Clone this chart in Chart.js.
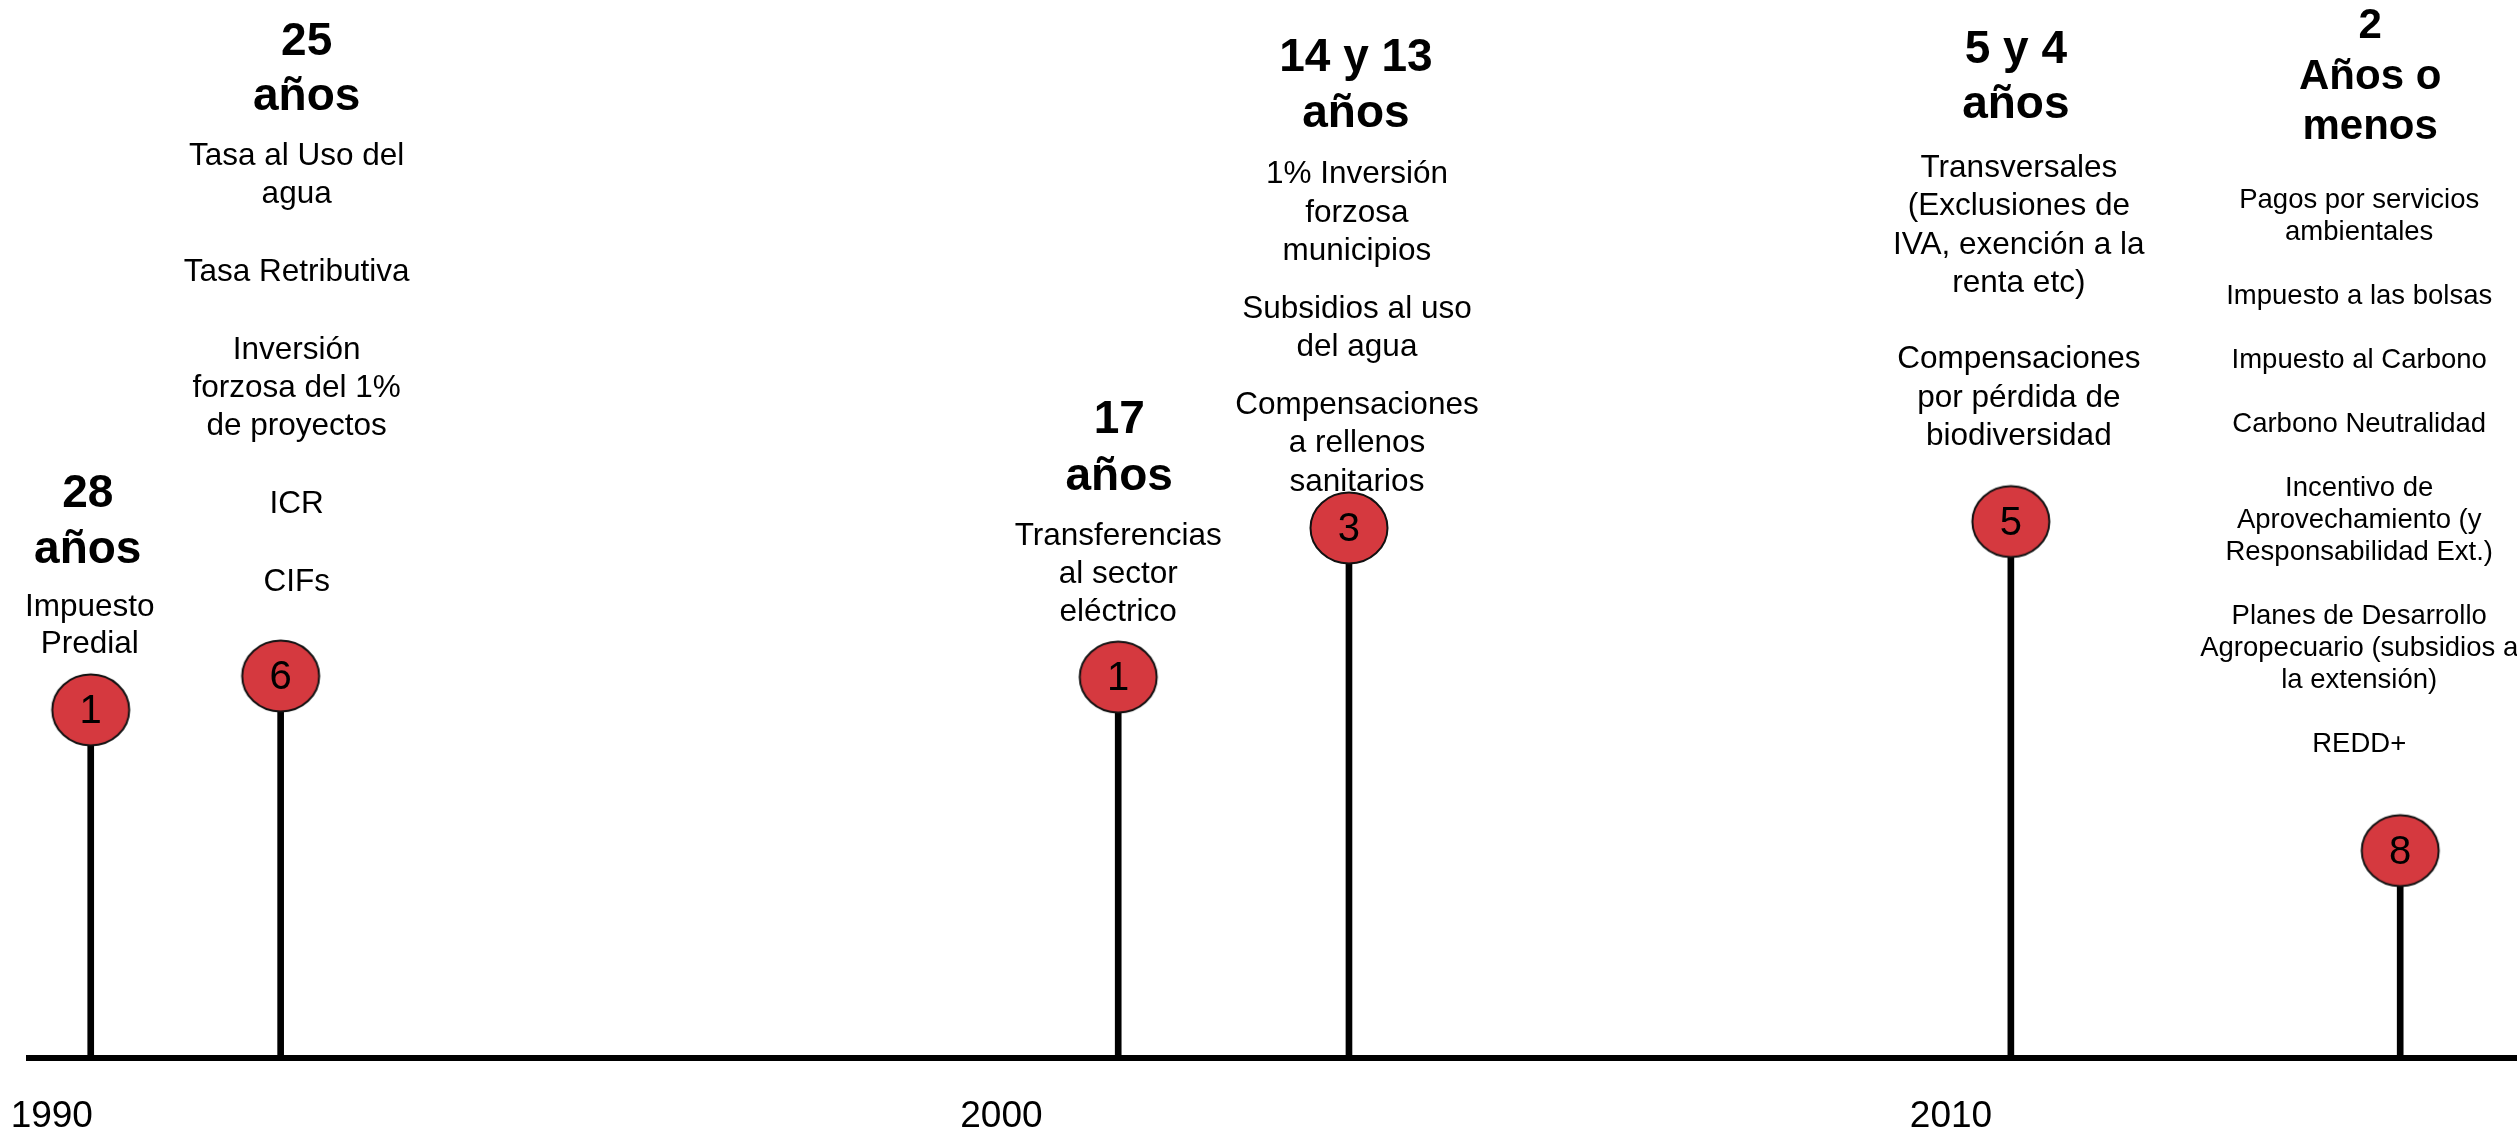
<!DOCTYPE html>
<html lang="es">
<head>
<meta charset="utf-8">
<title>Instrumentos económicos - línea de tiempo</title>
<script src="https://cdn.jsdelivr.net/npm/chart.js@4.4.1/dist/chart.umd.min.js"></script>
<style>
  html, body { margin: 0; padding: 0; background: #fff; overflow: hidden; }
  #wrap { width: 2517px; height: 1135px; }
  #timeline { display: block; }
</style>
</head>
<body>
<div id="wrap"><canvas id="timeline"></canvas></div>
<script>
// where each group sits on the time axis
const eventYears = [1990.41, 1992.41, 2001.23, 2003.66, 2010.63, 2014.73];
// stem height, 0 = axis line, 100 = top of the plot
const stemHeights = [32.9, 36.1, 36.0, 50.1, 50.7, 19.6];
// number written inside each marker
const instrumentCounts = [1, 6, 1, 3, 5, 8];
const yearTicks = [1990, 2000, 2010];

const groupTitles = [
  ["28", "años"],
  ["25", "años"],
  ["17", "años"],
  ["14 y 13", "años"],
  ["5 y 4", "años"],
  ["2", "Años o", "menos"],
];

const groupItems = [
  [["Impuesto", "Predial"]],
  [["Tasa al Uso del", "agua"], ["Tasa Retributiva"], ["Inversión", "forzosa del 1%", "de proyectos"], ["ICR"], ["CIFs"]],
  [["Transferencias", "al sector", "eléctrico"]],
  [["1% Inversión", "forzosa", "municipios"], ["Subsidios al uso", "del agua"], ["Compensaciones", "a rellenos", "sanitarios"]],
  [["Transversales", "(Exclusiones de", "IVA, exención a la", "renta etc)"], ["Compensaciones", "por pérdida de", "biodiversidad"]],
  [["Pagos por servicios", "ambientales"], ["Impuesto a las bolsas"], ["Impuesto al Carbono"], ["Carbono Neutralidad"],
   ["Incentivo de", "Aprovechamiento (y", "Responsabilidad Ext.)"],
   ["Planes de Desarrollo", "Agropecuario (subsidios a", "la extensión)"], ["REDD+"]],
];

const FONT = '"Liberation Sans", Arial, sans-serif';

// text block layout: first title baseline (px), x shift from the stem, sizes and spacing
const blockLayout = [
  { top: 507, titleDx: -3, itemDx: -1, titleSize: 46, titleLH: 56, gap: 53, itemSize: 31.5, itemLH: 37, para: 0 },
  { top: 55, titleDx: 26, itemDx: 16, titleSize: 46, titleLH: 55, gap: 55, itemSize: 31.5, itemLH: 38, para: 40 },
  { top: 433, titleDx: 1, itemDx: 0, titleSize: 46, titleLH: 57, gap: 55, itemSize: 31.5, itemLH: 38, para: 0 },
  { top: 71, titleDx: 7, itemDx: 8, titleSize: 46, titleLH: 56, gap: 56, itemSize: 31.5, itemLH: 38.5, para: 19 },
  { top: 63, titleDx: 5, itemDx: 8, titleSize: 46, titleLH: 55, gap: 59, itemSize: 31.5, itemLH: 38.3, para: 38 },
  { top: 38, titleDx: -30, itemDx: -41, titleSize: 42, titleLH: 50.5, gap: 69, itemSize: 27.5, itemLH: 32, para: 32 },
];

function makeMarker() {
  const c = document.createElement("canvas");
  c.width = 84;
  c.height = 78;
  const g = c.getContext("2d");
  g.beginPath();
  g.ellipse(42, 39, 38.5, 35.5, 0, 0, Math.PI * 2);
  g.fillStyle = "#d5393f";
  g.fill();
  g.lineWidth = 2;
  g.strokeStyle = "#111";
  g.stroke();
  return c;
}

const points = eventYears.map((yr, i) => ({ x: yr, y: stemHeights[i] }));

const annotations = {
  id: "annotations",
  afterDatasetsDraw(chart) {
    const ctx = chart.ctx;
    const xs = chart.scales.x;
    const ys = chart.scales.y;
    ctx.save();
    ctx.fillStyle = "#000";
    ctx.textAlign = "center";

    eventYears.forEach((yr, i) => {
      const px = xs.getPixelForValue(yr);
      const py = ys.getPixelForValue(stemHeights[i]);

      // number inside the marker
      ctx.font = `40px ${FONT}`;
      ctx.textBaseline = "middle";
      ctx.fillText(String(instrumentCounts[i]), px, py + 2);

      // title + instruments above it
      const s = blockLayout[i];
      ctx.textBaseline = "alphabetic";
      let base = s.top;
      ctx.font = `bold ${s.titleSize}px ${FONT}`;
      groupTitles[i].forEach((line, k) => {
        if (k > 0) base += s.titleLH;
        ctx.fillText(line, px + s.titleDx, base);
      });
      base += s.gap;
      ctx.font = `${s.itemSize}px ${FONT}`;
      groupItems[i].forEach((para, p) => {
        if (p > 0) base += s.itemLH + s.para;
        para.forEach((line, k) => {
          if (k > 0) base += s.itemLH;
          ctx.fillText(line, px + s.itemDx, base);
        });
      });
    });
    ctx.restore();
  },
};

new Chart(document.getElementById("timeline"), {
  type: "bar",
  data: {
    datasets: [
      {
        type: "line",
        data: points,
        showLine: false,
        pointStyle: makeMarker(),
        pointRadius: 39,
        pointHoverRadius: 39,
        order: 0,
      },
      {
        type: "bar",
        data: points,
        backgroundColor: "#000",
        barThickness: 6,
        order: 1,
      },
    ],
  },
  options: {
    responsive: true,
    maintainAspectRatio: false,
    animation: false,
    layout: { autoPadding: false, padding: { left: 29, right: 0, top: 0, bottom: 0 } },
    plugins: {
      legend: { display: false },
      tooltip: { enabled: false },
    },
    scales: {
      x: {
        type: "linear",
        min: 1989.76,
        max: 2015.96,
        offset: false,
        grid: { display: false, drawTicks: false, offset: false },
        border: { display: true, color: "#000", width: 6 },
        afterBuildTicks: (scale) => {
          scale.ticks = yearTicks.map((v) => ({ value: v }));
        },
        afterFit: (scale) => {
          // labels sit well below the line, keep the axis box tight
          scale.paddingLeft = 0;
          scale.paddingRight = 0;
          scale.height = 77;
        },
        ticks: {
          autoSkip: false,
          maxRotation: 0,
          padding: 40,
          color: "#000",
          font: { family: FONT, size: 37, lineHeight: 1 },
          callback: (v) => String(v),
        },
      },
      y: {
        display: false,
        min: 0,
        max: 100,
      },
    },
  },
  plugins: [annotations],
});
</script>
</body>
</html>
